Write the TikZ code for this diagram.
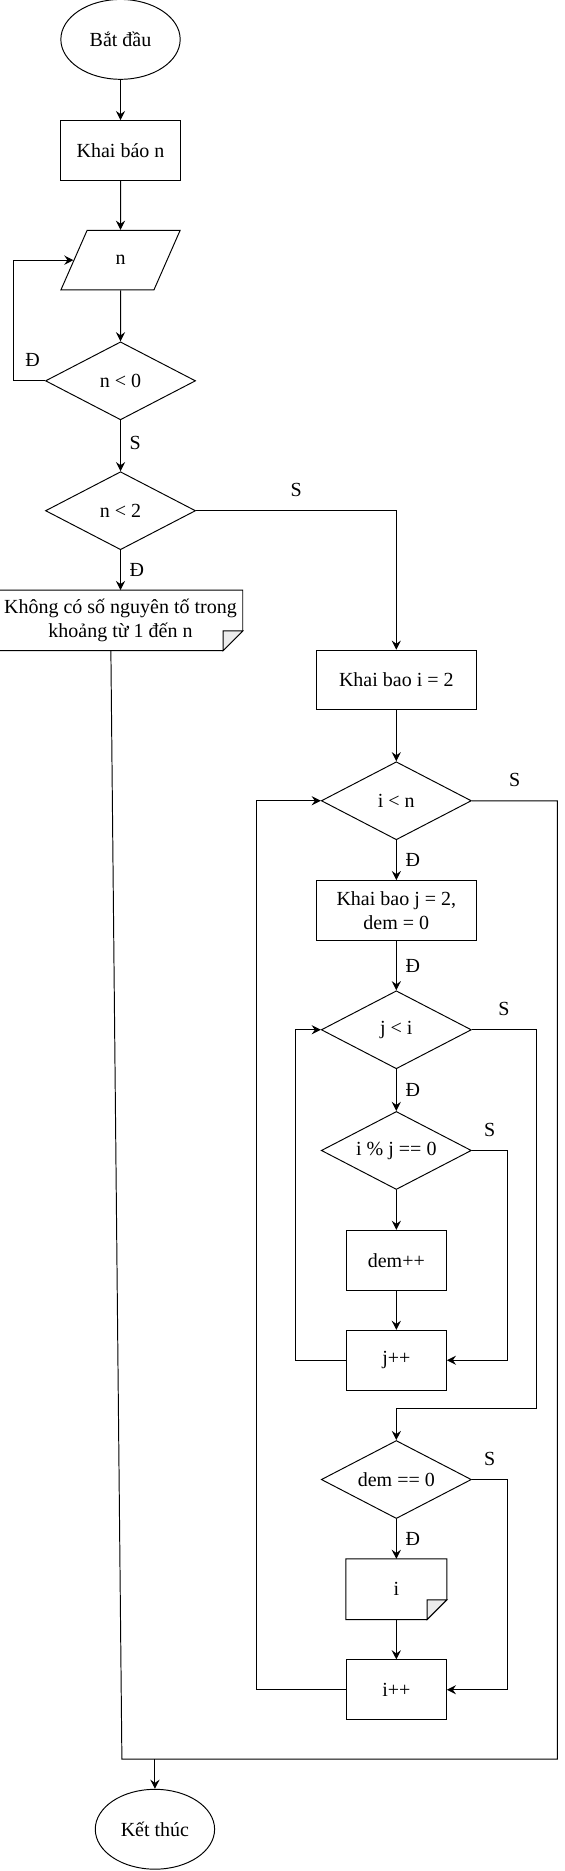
\documentclass[tikz,border=0pt]{standalone}
\usepackage{fontspec}
\setmainfont{Liberation Serif}
\usetikzlibrary{positioning,shapes,shapes.geometric,arrows,arrows.meta}
\tikzstyle{term}=[draw, ellipse, minimum width=2.6cm, minimum height=1.74cm, inner sep=0pt]
\tikzstyle{blk}=[draw, rectangle, minimum width=2.6cm, minimum height=1.3cm, align=center]
\tikzstyle{blk1}=[draw, rectangle, minimum width=3.48cm, minimum height=1.3cm, align=center]
\tikzstyle{blk2}=[draw, rectangle, minimum width=2.18cm, minimum height=1.3cm, align=center]
\tikzstyle{io}=[draw, trapezium, trapezium left angle=68, trapezium right angle=112, trapezium stretches=true, minimum width=2.6cm, minimum height=1.3cm]
\tikzstyle{dec}=[draw, diamond, aspect=1.9, minimum width=3.27cm, minimum height=1.7cm, inner sep=0pt]
\tikzstyle{note}=[rectangle, minimum height=1.3cm, align=center]
\tikzstyle{lbl}=[inner sep=2pt]
\newcommand{\notebox}[1]{%
  \draw (#1.north west) -- (#1.north east) -- ([yshift=0.43cm]#1.south east) -- ([xshift=-0.43cm]#1.south east) -- (#1.south west) -- cycle;
  \draw[fill=gray!15] ([yshift=0.43cm]#1.south east) -- ([xshift=-0.43cm]#1.south east) -- ([shift={(-0.43cm,0.43cm)}]#1.south east) -- cycle;}

\begin{document}
\begin{tikzpicture}[node distance=2cm, >={Stealth[length=2mm,width=2mm,inset=0.7mm]}, font=\fontsize{12.4pt}{14.6pt}\selectfont, line width=0.6pt]
\useasboundingbox (-2.626,0.858) rectangle (9.685,-39.91);

\node[term] at (0,0) (start) {Bắt đầu};
\node[blk, below of = start, node distance = 2.42cm] (decl) {Khai báo n};
\node[io, below of = decl, node distance = 2.39cm] (inp) {n};
\node[dec, below of = inp, node distance = 2.63cm] (cmp0) {n < 0};
\node[dec, below of = cmp0, node distance = 2.83cm] (cmp2) {n < 2};
\node[note, minimum width=5.28cm, below of = cmp2, node distance = 2.39cm] (none) {Không có số nguyên tố trong\\khoảng từ 1 đến n};

\node[blk1] at (6.01,-13.96) (initi) {Khai bao i = 2};
\node[dec, below of = initi, node distance = 2.63cm] (lti) {i < n};
\node[blk1, below of = lti, node distance = 2.39cm] (initj) {Khai bao j = 2,\\dem = 0};
\node[dec, below of = initj, node distance = 2.6cm] (ltj) {j < i};
\node[dec, below of = ltj, node distance = 2.63cm] (mod) {i \% j == 0};
\node[blk2, below of = mod, node distance = 2.39cm] (incd) {dem++};
\node[blk2, below of = incd, node distance = 2.18cm] (incj) {j++};
\node[dec, below of = incj, node distance = 2.6cm] (isp) {dem == 0};
\node[note, minimum width=2.18cm, below of = isp, node distance = 2.39cm] (outi) {i};
\node[blk2, below of = outi, node distance = 2.19cm] (inci) {i++};
\node[term] at (0.75,-39.0) (stop) {Kết thúc};

\notebox{none}
\notebox{outi}

\coordinate (bl) at (0.03,-37.47);
\coordinate (br) at (9.52,-37.47);

\draw[->] (start) -- (decl);
\draw[->] (decl) -- (inp);
\draw[->] (inp) -- (cmp0);
\draw[->] (cmp0.west) -- ++(-0.68,0) |- (inp);
\node[lbl, above left = 0.22cm and 0.03cm of cmp0.west] (y0) {Đ};
\draw[->] (cmp0) -- node[lbl, right=0.12cm, pos=0.45] {S} (cmp2);
\draw[->] (cmp2.east) -| node[lbl, above=0.22cm, pos=0.25] {S} (initi);
\draw[->] (cmp2) -- node[lbl, right=0.12cm] {Đ} (none);

\draw (lti.east) -| node[lbl, above=0.22cm, pos=0.25] {S} (br) -- (bl) -- ([xshift=-0.21cm]none.south);
\draw[->] (stop.north |- bl) -- (stop);

\draw[->] (initi) -- (lti);
\draw[->] (lti) -- node[lbl, right=0.12cm] {Đ} (initj);
\draw[->] (initj) -- node[lbl, right=0.12cm] {Đ} (ltj);
\draw[->] (ltj) -- node[lbl, right=0.12cm] {Đ} (mod);
\draw[->] (mod) -- (incd);
\draw[->] (incd) -- (incj);
\draw[->] (mod.east) -- node[lbl, above=0.22cm] {S} ++(0.78,0) |- (incj.east);
\draw[->] (incj.west) -- ++(-1.09,0) |- (ltj.west);
\draw[->] (ltj.east) -- node[lbl, above=0.22cm] {S} ++(1.4,0) |- ([yshift=0.68cm]isp.north) -- (isp.north);

\draw[->] (isp) -- node[lbl, right=0.12cm] {Đ} (outi);
\draw[->] (outi) -- (inci);
\draw[->] (isp.east) -- node[lbl, above=0.22cm] {S} ++(0.78,0) |- (inci.east);
\draw[->] (inci.west) -- ++(-1.95,0) |- (lti.west);
\end{tikzpicture}
\end{document}
